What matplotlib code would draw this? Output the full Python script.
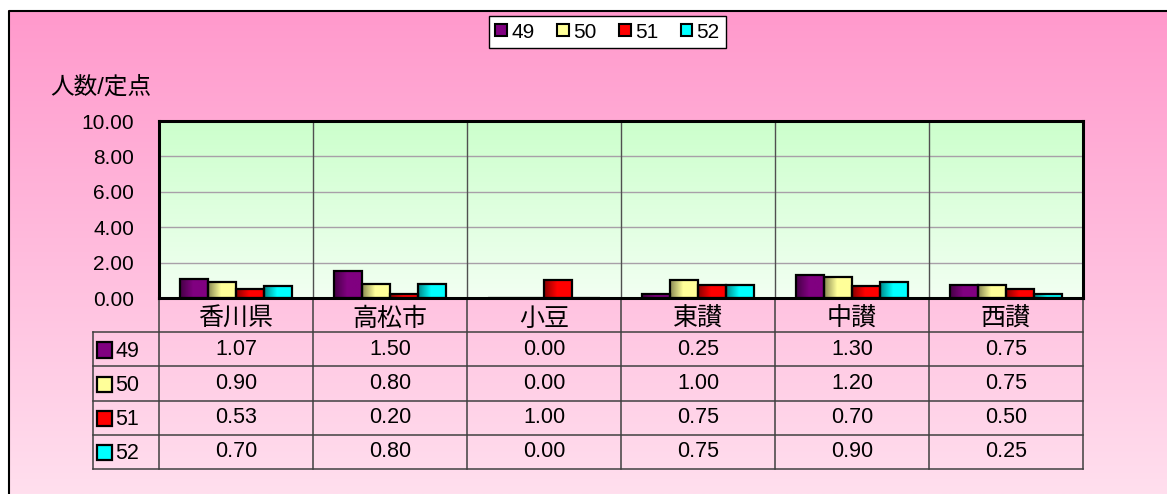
import numpy as np
import matplotlib
matplotlib.use('Agg')
import matplotlib.pyplot as plt
from matplotlib.colors import to_rgb
from matplotlib.patches import Rectangle

plt.rcParams['font.family'] = ['Liberation Sans', 'Noto Sans CJK JP']

# data
areas = ['香川県', '高松市', '小豆', '東讃', '中讃', '西讃']
weeks = ['49', '50', '51', '52']
w49 = [1.07, 1.50, 0.00, 0.25, 1.30, 0.75]
w50 = [0.90, 0.80, 0.00, 1.00, 1.20, 0.75]
w51 = [0.53, 0.20, 1.00, 0.75, 0.70, 0.50]
w52 = [0.70, 0.80, 0.00, 0.75, 0.90, 0.25]
series = [w49, w50, w51, w52]
colors = ['#800080', '#ffff99', '#ff0000', '#00ffff']
yticks = [0, 2, 4, 6, 8, 10]

W, H = 1167, 494
fig = plt.figure(figsize=(W / 100, H / 100), dpi=100)


def fx(px):
    return px / W


def fy(py):
    return 1 - py / H


def vgrad(top, bottom, n=256):
    t = np.linspace(0, 1, n)[:, None]
    a, b = np.array(to_rgb(top)), np.array(to_rgb(bottom))
    return (a * (1 - t) + b * t)[:, None, :].repeat(2, axis=1)


# pink chart area background
bg = fig.add_axes([0, 0, 1, 1], zorder=0)
bg.set_xlim(0, W)
bg.set_ylim(H, 0)
bg.axis('off')
bg.imshow(vgrad('#ff99cc', '#ffdfee'), extent=(8, W, H, 11), aspect='auto', origin='upper')
bg.plot([8.5, 8.5, W], [H, 11.5, 11.5], color='black', lw=1.5)
bg.set_xlim(0, W)
bg.set_ylim(H, 0)

# plot area
ax = fig.add_axes([fx(159), fy(298), fx(1083) - fx(159), (298 - 121) / H], zorder=2)
ax.imshow(vgrad('#ccffcc', '#f2fff2'), extent=(0, 6, 0, 10), aspect='auto', origin='upper', zorder=0)
for v in yticks[1:-1]:
    ax.axhline(v, color='#a8a0a8', lw=1, zorder=1)
for i in range(1, 6):
    ax.axvline(i, color='#505050', lw=1, zorder=1)

bw = 0.183
for k, vals in enumerate(series):
    base = np.array(to_rgb(colors[k]))
    t = np.linspace(0, 1, 32)
    shade = np.clip(0.55 + 0.45 * np.minimum(t / 0.45, 1.0), 0, 1)
    img = (base[None, :] * shade[:, None])[None, :, :]
    for i, v in enumerate(vals):
        x0 = i + 0.5 + (k - 2) * bw
        if v > 0:
            ax.imshow(img, extent=(x0, x0 + bw, 0, v), aspect='auto', zorder=2)
        ax.bar(x0, v, width=bw, align='edge', facecolor='none', edgecolor='black', lw=1.6, zorder=3)

ax.set_xlim(0, 6)
ax.set_ylim(0, 10)
ax.set_xticks([])
ax.set_yticks(yticks)
ax.set_yticklabels([f'{v:.2f}' for v in yticks], fontsize=15)
ax.tick_params(axis='y', length=0, pad=18)
for s in ax.spines.values():
    s.set_linewidth(2.2)
    s.set_color('black')

fig.text(fx(50), fy(87), '人数/定点', fontsize=17, ha='left', va='center')

# data table under the plot
tb = fig.add_axes([fx(92.7), fy(469), fx(1083) - fx(92.7), (469 - 298) / H], zorder=1)
tb.set_xlim(-0.43, 6)
tb.set_ylim(5, 0)
tb.axis('off')
lc = '#404040'
for r in range(1, 6):
    tb.plot([-0.43, 6], [r, r], color=lc, lw=1.1, clip_on=False)
for i in range(0, 7):
    tb.plot([i, i], [0, 5], color=lc, lw=1.1, clip_on=False)
tb.plot([-0.43, -0.43], [1, 5], color=lc, lw=1.1, clip_on=False)

for i, name in enumerate(areas):
    tb.text(i + 0.5, 0.6, name, fontsize=18, ha='center', va='center')
for k, vals in enumerate(series):
    r = k + 1
    tb.add_patch(Rectangle((-0.40, r + 0.30), 0.095, 0.44, facecolor=colors[k],
                           edgecolor='black', lw=1.6, clip_on=False))
    tb.text(-0.285, r + 0.55, weeks[k], fontsize=15.5, ha='left', va='center')
    for i, v in enumerate(vals):
        tb.text(i + 0.5, r + 0.5, f'{v:.2f}', fontsize=15.5, ha='center', va='center')

# legend
handles = [Rectangle((0, 0), 1, 1, facecolor=c, edgecolor='black', lw=1.5) for c in colors]
leg = fig.legend(handles, weeks, ncol=4, loc='center', bbox_to_anchor=(fx(607.5), fy(32)),
                 frameon=True, fancybox=False, edgecolor='black', framealpha=1,
                 handlelength=0.55, handleheight=0.55, handletextpad=0.2,
                 columnspacing=1.1, borderpad=0.3, fontsize=15)
leg.get_frame().set_linewidth(1)

fig.savefig('out.png', dpi=100)
